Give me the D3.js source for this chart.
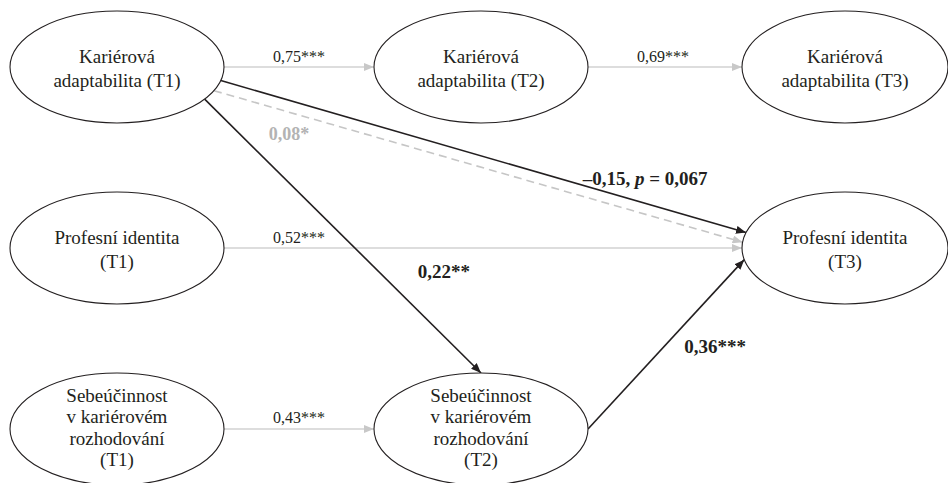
<!DOCTYPE html>
<html>
<head>
<meta charset="utf-8">
<script src="https://cdn.jsdelivr.net/npm/d3@7"></script>
<style>
  html, body { margin: 0; padding: 0; background: #ffffff; }
  svg { display: block; }
  svg text { font-family: "Liberation Serif", "Tinos", "Times New Roman", "DejaVu Serif", serif; }
</style>
</head>
<body>
<svg id="chart" width="948" height="483"></svg>
<script>
// ---- Model data ----
const waves = ["T1", "T2", "T3"];
const constructs = ["adaptabilita", "identita", "sebeúčinnost"];

const nodeIds = ["KA1", "KA2", "KA3", "PI1", "PI3", "SE1", "SE2"];
const nodeWave = ["T1", "T2", "T3", "T1", "T3", "T1", "T2"];
const nodeConstruct = ["adaptabilita", "adaptabilita", "adaptabilita", "identita", "identita", "sebeúčinnost", "sebeúčinnost"];
const nodeLabels = [
  ["Kariérová", "adaptabilita (T1)"],
  ["Kariérová", "adaptabilita (T2)"],
  ["Kariérová", "adaptabilita (T3)"],
  ["Profesní identita", "(T1)"],
  ["Profesní identita", "(T3)"],
  ["Sebeúčinnost", "v kariérovém", "rozhodování", "(T1)"],
  ["Sebeúčinnost", "v kariérovém", "rozhodování", "(T2)"]
];

const edgeSource = ["KA1", "KA2", "PI1", "SE1", "KA1", "KA1", "KA1", "SE2"];
const edgeTarget = ["KA2", "KA3", "PI3", "SE2", "PI3", "PI3", "SE2", "PI3"];
const edgeBeta   = [0.75, 0.69, 0.52, 0.43, 0.08, -0.15, 0.22, 0.36];
const edgeStars  = ["***", "***", "***", "***", "*", "", "**", "***"];
const edgeP      = [null, null, null, null, null, 0.067, null, null];
const edgeType   = ["stabilita", "stabilita", "stabilita", "stabilita", "celkový", "přímý", "přímý", "přímý"];

// ---- Layout ----
const svg = d3.select("#chart");
const x = d3.scalePoint().domain(waves).range([117, 845]);
const y = d3.scalePoint().domain(constructs).range([67, 429]);
const rxByWave = d3.scaleOrdinal().domain(waves).range([107, 107, 103]);
const RY = 56;

const nodes = nodeIds.map((id, i) => ({
  id,
  cx: x(nodeWave[i]),
  cy: y(nodeConstruct[i]),
  rx: rxByWave(nodeWave[i]),
  ry: RY,
  lines: nodeLabels[i]
}));
const nodeById = new Map(nodes.map(n => [n.id, n]));

// where each path leaves / enters its ellipse (parametric angle, degrees)
const ports = [[0, 180], [0, 180], [0, 180], [0, 180], [25, 186], [14, 196], [35, 270], [0, 168]];
// label placement: fraction along path, offsets, anchor
const labelPos = [
  { t: 0.5,   dx: 0,  dy: -5,  anchor: "middle" },
  { t: 0.5,   dx: -2, dy: -5,  anchor: "middle" },
  { t: 0.145, dx: 0,  dy: -5,  anchor: "middle" },
  { t: 0.5,   dx: 0,  dy: -6,  anchor: "middle" },
  { t: 0.14,  dx: 1,  dy: 28,  anchor: "middle" },
  { t: 0.808, dx: 0,  dy: -18, anchor: "middle" },
  { t: 0.626, dx: 40, dy: 7,   anchor: "start" },
  { t: 0.5,   dx: 18, dy: 9,   anchor: "start" }
];
const typeStyle = {
  "stabilita": { stroke: "#d2d2d2", width: 1.6, dash: null, marker: "arrow-light", text: "#231f20", weight: "normal", size: 16 },
  "celkový":   { stroke: "#c6c6c6", width: 1.6, dash: "8,5", marker: "arrow-light", text: "#b3b3b3", weight: "bold", size: 18 },
  "přímý":     { stroke: "#231f20", width: 1.6, dash: null, marker: "arrow-dark", text: "#231f20", weight: "bold", size: 19 }
};

function onEllipse(n, deg) {
  const a = deg * Math.PI / 180;
  return [n.cx + n.rx * Math.cos(a), n.cy + n.ry * Math.sin(a)];
}

const fmt = d3.format(".2f");
const fmtP = d3.format(".3f");
const dec = s => s.replace(".", ",").replace("-", "\u2013").replace("\u2212", "\u2013");

const edges = edgeSource.map((s, i) => {
  const src = nodeById.get(s), tgt = nodeById.get(edgeTarget[i]);
  const p0 = onEllipse(src, ports[i][0]);
  const p1 = onEllipse(tgt, ports[i][1]);
  return { i, p0, p1, beta: edgeBeta[i], stars: edgeStars[i], p: edgeP[i], style: typeStyle[edgeType[i]], lab: labelPos[i] };
});

// ---- Arrowheads ----
const defs = svg.append("defs");
[["arrow-light", "#c8c8c8"], ["arrow-dark", "#231f20"]].forEach(([id, col]) => {
  defs.append("marker")
    .attr("id", id)
    .attr("viewBox", "0 0 10 8")
    .attr("refX", 10).attr("refY", 4)
    .attr("markerUnits", "userSpaceOnUse")
    .attr("markerWidth", 10).attr("markerHeight", 8)
    .attr("orient", "auto")
    .append("path")
    .attr("d", "M0,0 L10,4 L0,8 Z")
    .attr("fill", col);
});

// ---- Paths (light ones first, dark on top) ----
const order = edges.slice().sort((a, b) => (a.style.stroke === "#231f20") - (b.style.stroke === "#231f20"));
svg.append("g").selectAll("line")
  .data(order)
  .join("line")
  .attr("x1", d => d.p0[0]).attr("y1", d => d.p0[1])
  .attr("x2", d => d.p1[0]).attr("y2", d => d.p1[1])
  .attr("stroke", d => d.style.stroke)
  .attr("stroke-width", d => d.style.width)
  .attr("stroke-dasharray", d => d.style.dash)
  .attr("marker-end", d => `url(#${d.style.marker})`);

// ---- Nodes ----
const ng = svg.append("g").selectAll("g")
  .data(nodes)
  .join("g");
ng.append("ellipse")
  .attr("cx", d => d.cx).attr("cy", d => d.cy)
  .attr("rx", d => d.rx).attr("ry", d => d.ry)
  .attr("fill", "#ffffff")
  .attr("stroke", "#231f20")
  .attr("stroke-width", 1.1);
ng.each(function (d) {
  const n = d.lines.length;
  const lh = n > 2 ? 21.4 : 23.5;
  const first = d.cy - (n - 1) * lh / 2 + (n > 2 ? 5 : 8);
  const t = d3.select(this).append("text")
    .attr("text-anchor", "middle")
    .attr("font-size", 19)
    .attr("fill", "#231f20");
  d.lines.forEach((line, k) => {
    t.append("tspan").attr("x", d.cx).attr("y", first + k * lh).text(line);
  });
});

// ---- Coefficient labels ----
const lg = svg.append("g");
edges.forEach(e => {
  const px = e.p0[0] + (e.p1[0] - e.p0[0]) * e.lab.t + e.lab.dx;
  const py = e.p0[1] + (e.p1[1] - e.p0[1]) * e.lab.t + e.lab.dy;
  const t = lg.append("text")
    .attr("x", px).attr("y", py)
    .attr("text-anchor", e.lab.anchor)
    .attr("font-size", e.style.size)
    .attr("font-weight", e.style.weight)
    .attr("fill", e.style.text);
  t.append("tspan").text(dec(fmt(e.beta)) + e.stars);
  if (e.p !== null) {
    t.append("tspan").text(", ");
    t.append("tspan").attr("font-style", "italic").text("p");
    t.append("tspan").text(" = " + dec(fmtP(e.p)));
  }
});
</script>
</body>
</html>
